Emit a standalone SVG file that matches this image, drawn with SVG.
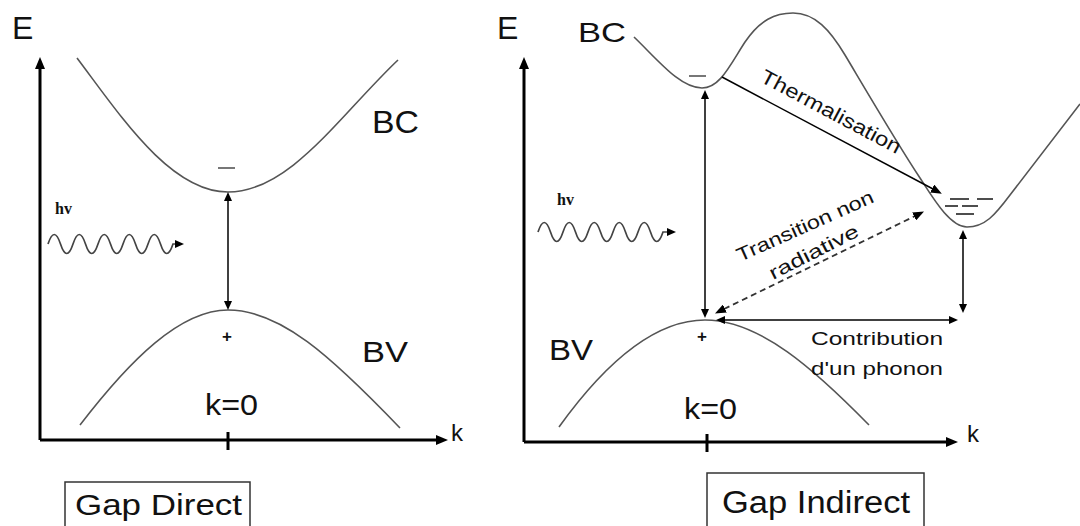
<svg xmlns="http://www.w3.org/2000/svg" width="1080" height="526" viewBox="0 0 1080 526">
<style>
.lbl{font-family:"Liberation Sans",Arial,sans-serif;fill:#111}
.hv{font-family:"Liberation Serif","Times New Roman",serif;font-weight:bold;font-size:16px;fill:#111}
.axis{stroke:#000;stroke-width:3;fill:none}
.band{stroke:#555;stroke-width:1.6;fill:none}
.arr{stroke:#000;stroke-width:1.5;fill:none}
.dash{stroke:#333;stroke-width:1.8;fill:none;stroke-dasharray:6 4}
.wave{stroke:#444;stroke-width:1.7;fill:none}
.lvl{stroke:#222;stroke-width:1.6}
.box{fill:#fff;stroke:#333;stroke-width:1.5}
</style>
<defs>
<marker id="big" viewBox="0 0 12 10" refX="2" refY="5" markerWidth="12" markerHeight="10" markerUnits="userSpaceOnUse" orient="auto-start-reverse"><path d="M0,0 L12,5 L0,10 z" fill="#000"/></marker>
<marker id="sm" viewBox="0 0 9 8" refX="1" refY="4" markerWidth="9" markerHeight="8" markerUnits="userSpaceOnUse" orient="auto-start-reverse"><path d="M0,0 L9,4 L0,8 z" fill="#000"/></marker>
<marker id="md" viewBox="0 0 11 9" refX="1" refY="4.5" markerWidth="11" markerHeight="9" markerUnits="userSpaceOnUse" orient="auto-start-reverse"><path d="M0,0 L11,4.5 L0,9 z" fill="#000"/></marker>
</defs>
<rect width="1080" height="526" fill="#fff"/>

<g id="left-axes">
<line class="axis" x1="40" y1="440" x2="40" y2="67" marker-end="url(#big)"/>
<line class="axis" x1="40" y1="440" x2="438" y2="440" marker-end="url(#big)"/>
<line class="axis" x1="228" y1="432" x2="228" y2="450"/>
<text class="lbl" x="12" y="39" font-size="32">E</text>
<text class="lbl" x="451" y="441" font-size="24">k</text>
<text class="lbl" x="205" y="415" font-size="30" textLength="53" lengthAdjust="spacingAndGlyphs">k=0</text>
</g>

<g id="left-bc">
<path class="band" d="M77,58 C120,115 170,192 228,192 C290,192 340,115 398,60"/>
<line class="band" x1="218" y1="168" x2="235" y2="168"/>
<text class="lbl" x="372" y="133" font-size="31" textLength="47" lengthAdjust="spacingAndGlyphs">BC</text>
</g>

<g id="left-bv">
<path class="band" d="M80,425 C130,360 180,310 228,310 C280,310 330,355 400,428"/>
<text class="lbl" x="227" y="342" font-size="17" font-weight="bold" text-anchor="middle">+</text>
<text class="lbl" x="362" y="362" font-size="30" textLength="46" lengthAdjust="spacingAndGlyphs">BV</text>
</g>

<g id="left-photon">
<text class="hv" x="55" y="214">hv</text>
<path class="wave" d="M48,244 q6.25,-19 12.5,0 t12.5,0 t12.5,0 t12.5,0 t12.5,0 t12.5,0 t12.5,0 t12.5,0 t12.5,0 t12.5,0 L176,244" marker-end="url(#sm)"/>
</g>

<g id="left-title">
<rect class="box" x="65" y="482" width="185" height="60"/>
<text class="lbl" x="75" y="515" font-size="30" textLength="167" lengthAdjust="spacingAndGlyphs">Gap Direct</text>
</g>

<g id="right-axes">
<line class="axis" x1="524" y1="442" x2="524" y2="67" marker-end="url(#big)"/>
<line class="axis" x1="524" y1="442" x2="948" y2="442" marker-end="url(#big)"/>
<line class="axis" x1="707" y1="434" x2="707" y2="452"/>
<text class="lbl" x="497" y="39" font-size="32">E</text>
<text class="lbl" x="967" y="442" font-size="24">k</text>
<text class="lbl" x="684" y="419" font-size="30" textLength="53" lengthAdjust="spacingAndGlyphs">k=0</text>
</g>

<g id="right-bc">
<path class="band" d="M634,37 C658,60 680,88 702,88 C720,88 730,65 745,42 C760,20 775,13 793,13 C815,13 830,30 845,55 C860,80 895,140 920,178 C933,198 950,227 967,227 C985,227 995,215 1010,195 L1080,104"/>
<line class="band" x1="689" y1="76" x2="706" y2="76"/>
<text class="lbl" x="578" y="42" font-size="28" textLength="48" lengthAdjust="spacingAndGlyphs">BC</text>
<line class="lvl" x1="950" y1="199" x2="969" y2="199"/>
<line class="lvl" x1="977" y1="199" x2="993" y2="199"/>
<line class="lvl" x1="945" y1="206" x2="958" y2="206"/>
<line class="lvl" x1="962" y1="206" x2="978" y2="206"/>
<line class="lvl" x1="956" y1="214" x2="974" y2="214"/>
</g>

<g id="right-bv">
<path class="band" d="M559,427 C600,370 650,320 705,320 C760,320 815,370 869,425"/>
<text class="lbl" x="702" y="342" font-size="17" font-weight="bold" text-anchor="middle">+</text>
<text class="lbl" x="549" y="360" font-size="30" textLength="44" lengthAdjust="spacingAndGlyphs">BV</text>
</g>

<g id="right-photon">
<text class="hv" x="557" y="205">hv</text>
<path class="wave" d="M538,232 q6.25,-19 12.5,0 t12.5,0 t12.5,0 t12.5,0 t12.5,0 t12.5,0 t12.5,0 t12.5,0 t12.5,0 t12.5,0 L668,232" marker-end="url(#sm)"/>
</g>

<g id="connectors">
<line class="arr" x1="228" y1="200" x2="228" y2="302" marker-start="url(#sm)" marker-end="url(#sm)"/>
<line class="arr" x1="705" y1="98" x2="705" y2="310" marker-start="url(#sm)" marker-end="url(#sm)"/>
<line class="arr" x1="722" y1="77" x2="933" y2="189" marker-end="url(#md)"/>
<line class="dash" x1="724" y1="309" x2="915" y2="216" marker-start="url(#md)" marker-end="url(#md)"/>
<line class="arr" x1="963" y1="238" x2="963" y2="305" marker-start="url(#sm)" marker-end="url(#sm)"/>
<line class="arr" x1="724" y1="320" x2="950" y2="320" marker-start="url(#sm)" marker-end="url(#sm)"/>
</g>

<g id="labels">
<text class="lbl" font-size="20" transform="translate(759,81) rotate(28)" textLength="156" lengthAdjust="spacingAndGlyphs">Thermalisation</text>
<text class="lbl" font-size="19" transform="translate(740,262) rotate(-24)" textLength="148" lengthAdjust="spacingAndGlyphs">Transition non</text>
<text class="lbl" font-size="19" transform="translate(773,280) rotate(-27)" textLength="98" lengthAdjust="spacingAndGlyphs">radiative</text>
<text class="lbl" x="811" y="345" font-size="19" textLength="132" lengthAdjust="spacingAndGlyphs">Contribution</text>
<text class="lbl" x="811" y="375" font-size="19" textLength="132" lengthAdjust="spacingAndGlyphs">d'un phonon</text>
</g>

<g id="right-title">
<rect class="box" x="707" y="473" width="217" height="70"/>
<text class="lbl" x="722" y="513" font-size="31" textLength="188" lengthAdjust="spacingAndGlyphs">Gap Indirect</text>
</g>
</svg>
